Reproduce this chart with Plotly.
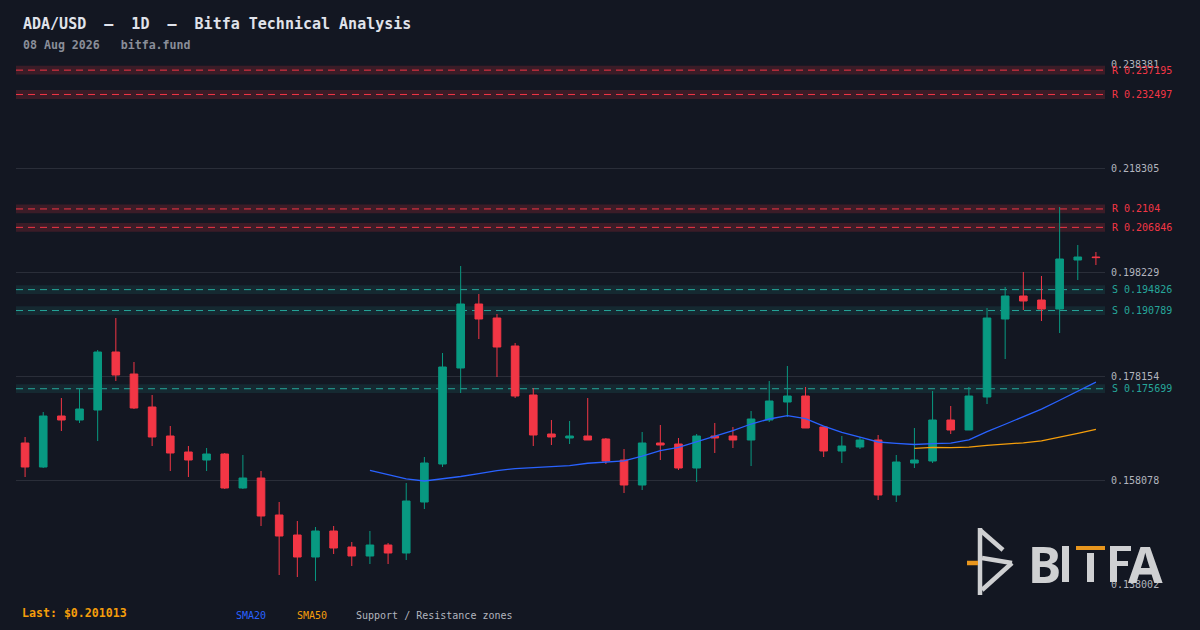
import pandas as pd
import plotly.graph_objects as go

# ---- data (ADA/USD daily) ----
dates = pd.date_range(end="2026-08-08", periods=60, freq="D")

opens = [0.165220, 0.160587, 0.170432, 0.169659, 0.171590, 0.182786, 0.178539, 0.172169, 0.166571, 0.163482,
         0.161938, 0.163096, 0.156533, 0.158463, 0.151321, 0.147460, 0.143213, 0.148232, 0.145144, 0.143406,
         0.145530, 0.143986, 0.153830, 0.161166, 0.179697, 0.192052, 0.189349, 0.183944, 0.174485, 0.166957,
         0.166185, 0.166571, 0.165992, 0.161938, 0.157112, 0.165220, 0.165027, 0.160394, 0.166571, 0.166571,
         0.165799, 0.169659, 0.173134, 0.174292, 0.168308, 0.163675, 0.164447, 0.165799, 0.155182, 0.161359,
         0.161745, 0.169659, 0.167729, 0.174099, 0.189156, 0.193596, 0.192824, 0.191087, 0.200545, 0.201124]
highs = [0.166378, 0.171204, 0.173906, 0.175644, 0.183172, 0.189349, 0.180856, 0.174485, 0.168501, 0.164640,
         0.164254, 0.163289, 0.162903, 0.159815, 0.153830, 0.150163, 0.149005, 0.149198, 0.146109, 0.148232,
         0.145916, 0.157498, 0.162517, 0.182593, 0.199387, 0.193982, 0.190121, 0.184523, 0.175837, 0.169659,
         0.169466, 0.173906, 0.166185, 0.164061, 0.167343, 0.168694, 0.166185, 0.166957, 0.169080, 0.168308,
         0.171397, 0.177188, 0.180083, 0.176030, 0.168308, 0.166571, 0.166378, 0.166764, 0.162903, 0.168115,
         0.175258, 0.172362, 0.176030, 0.191280, 0.195333, 0.198229, 0.197457, 0.210776, 0.203441, 0.202090]
lows = [0.158656, 0.160394, 0.167536, 0.169080, 0.165606, 0.177188, 0.171783, 0.164640, 0.159815, 0.158656,
        0.159815, 0.156340, 0.156340, 0.149198, 0.139739, 0.139353, 0.138581, 0.143793, 0.141476, 0.141862,
        0.141862, 0.142634, 0.152479, 0.160587, 0.174871, 0.185295, 0.177960, 0.173906, 0.164640, 0.164834,
        0.165027, 0.165799, 0.161166, 0.155568, 0.156147, 0.161938, 0.160008, 0.157691, 0.163289, 0.164254,
        0.160780, 0.169273, 0.170238, 0.168115, 0.162517, 0.161359, 0.164061, 0.154216, 0.153830, 0.160394,
        0.161359, 0.166957, 0.167729, 0.172748, 0.181435, 0.190894, 0.188770, 0.186454, 0.196685, 0.199580]
closes = [0.160587, 0.170432, 0.169659, 0.171783, 0.182786, 0.178346, 0.171976, 0.166378, 0.163289, 0.161938,
          0.163096, 0.156533, 0.158463, 0.151128, 0.147267, 0.143213, 0.148232, 0.144951, 0.143406, 0.145530,
          0.143986, 0.154023, 0.161359, 0.179890, 0.192052, 0.189156, 0.183751, 0.174292, 0.166764, 0.166378,
          0.166571, 0.165799, 0.161745, 0.157112, 0.165220, 0.164834, 0.160394, 0.166571, 0.166185, 0.165799,
          0.169852, 0.173327, 0.174292, 0.168115, 0.163675, 0.164640, 0.165799, 0.155182, 0.161552, 0.161938,
          0.169659, 0.167729, 0.174292, 0.189349, 0.193596, 0.192631, 0.191087, 0.200738, 0.201124, 0.201013]

resistance = [0.237195, 0.232497, 0.2104, 0.206846]
support = [0.194826, 0.190789, 0.175699]
zone_half = 0.00085

y_ticks = [0.138002, 0.158078, 0.178154, 0.198229, 0.218305, 0.238381]

last_price = 0.201013

BG = "#131722"
GREEN = "#089981"
RED = "#f23645"
TEAL = "#26a69a"
BLUE = "#2962ff"
ORANGE = "#f59e0b"
GREY = "#b2b5be"
FONT = "DejaVu Sans Mono"

# plot area in pixels (1200x630 canvas)
L, R, T, B = 16, 1105, 64, 584


def px(x):
    return (x - L) / (R - L)


def py(y):
    return (B - y) / (B - T)


df = pd.DataFrame({"open": opens, "high": highs, "low": lows, "close": closes}, index=dates)
df["sma20"] = df["close"].rolling(20).mean()
df["sma50"] = df["close"].rolling(50).mean()

fig = go.Figure()

fig.add_trace(go.Candlestick(
    x=df.index, open=df["open"], high=df["high"], low=df["low"], close=df["close"],
    increasing=dict(line=dict(color=GREEN, width=1), fillcolor=GREEN),
    decreasing=dict(line=dict(color=RED, width=1), fillcolor=RED),
    whiskerwidth=0, showlegend=False, hoverinfo="skip",
))
fig.add_trace(go.Scatter(x=df.index, y=df["sma20"], mode="lines",
                         line=dict(color=BLUE, width=1.3), showlegend=False, hoverinfo="skip"))
fig.add_trace(go.Scatter(x=df.index, y=df["sma50"], mode="lines",
                         line=dict(color=ORANGE, width=1.3), showlegend=False, hoverinfo="skip"))

# support / resistance zones
for levels, col, fill, tag in [(resistance, RED, "rgba(242,54,69,0.18)", "R"),
                               (support, TEAL, "rgba(38,166,154,0.13)", "S")]:
    for lv in levels:
        fig.add_shape(type="rect", xref="x domain", x0=0, x1=1, y0=lv - zone_half, y1=lv + zone_half,
                      fillcolor=fill, line_width=0, layer="below")
        fig.add_shape(type="line", xref="x domain", x0=0, x1=1, y0=lv, y1=lv,
                      line=dict(color=col, width=1, dash="7px,5px"), layer="below")
        fig.add_annotation(xref="paper", x=px(1110), y=lv, yref="y", text=f"{tag} {lv:g}",
                           showarrow=False, xanchor="left", yanchor="middle",
                           font=dict(family=FONT, size=10, color=col))

# header
fig.add_annotation(xref="paper", yref="paper", x=px(21), y=py(24),
                   text="<b>ADA/USD\u00a0\u00a0—\u00a0\u00a01D\u00a0\u00a0—\u00a0\u00a0Bitfa Technical Analysis</b>",
                   showarrow=False, xanchor="left", yanchor="middle",
                   font=dict(family=FONT, size=15, color="#e0e3eb"))
fig.add_annotation(xref="paper", yref="paper", x=px(21), y=py(45),
                   text="<b>08 Aug 2026\u00a0\u00a0\u00a0bitfa.fund</b>",
                   showarrow=False, xanchor="left", yanchor="middle",
                   font=dict(family=FONT, size=11.6, color="#8a8e99"))

# footer
fig.add_annotation(xref="paper", yref="paper", x=px(20), y=py(613),
                   text=f"<b>Last: ${last_price}</b>", showarrow=False, xanchor="left", yanchor="middle",
                   font=dict(family=FONT, size=11.6, color=ORANGE))
for label, x0, col in [("SMA20", 234, BLUE), ("SMA50", 295, ORANGE),
                       ("Support / Resistance zones", 354, GREY)]:
    fig.add_annotation(xref="paper", yref="paper", x=px(x0), y=py(615), text=label,
                       showarrow=False, xanchor="left", yanchor="middle",
                       font=dict(family=FONT, size=10, color=col))

# BITFA logo
LOGO = "#cfd0d2"
for x0, y0, x1, y1 in [(980, 528, 980, 595), (980, 530, 1003, 550),
                       (982, 558, 1012, 563), (1012, 563, 982, 590)]:
    fig.add_shape(type="line", xref="paper", yref="paper", x0=px(x0), y0=py(y0), x1=px(x1), y1=py(y1),
                  line=dict(color=LOGO, width=4.5))
fig.add_shape(type="line", xref="paper", yref="paper", x0=px(967), y0=py(563), x1=px(978), y1=py(563),
              line=dict(color="#e8961e", width=4.5))
for x0, y0, x1, y1, col in [(1062, 546, 1069, 582, LOGO),       # I
                            (1076, 546, 1105, 550, "#e8961e"),  # T bar
                            (1087, 553, 1094, 582, LOGO),       # T stem
                            (1110, 546, 1117, 582, LOGO),       # F stem
                            (1110, 546, 1131, 551, LOGO),       # F top
                            (1117, 561, 1128, 566, LOGO)]:      # F middle
    fig.add_shape(type="rect", xref="paper", yref="paper", x0=px(x0), y0=py(y0), x1=px(x1), y1=py(y1),
                  fillcolor=col, line_width=0)
for ch, xc in [("B", 1044), ("A", 1145)]:
    fig.add_annotation(xref="paper", yref="paper", x=px(xc), y=py(564), text=f"<b>{ch}</b>",
                       showarrow=False, xanchor="center", yanchor="middle",
                       font=dict(family="Noto Sans", size=50, color=LOGO))

fig.update_layout(
    width=1200, height=630,
    margin=dict(l=L, r=1200 - R, t=T, b=630 - B),
    paper_bgcolor=BG, plot_bgcolor=BG,
    boxgap=0.4,
    showlegend=False,
    xaxis=dict(rangeslider=dict(visible=False), showgrid=False, zeroline=False, showticklabels=False,
               range=[dates[0] - pd.Timedelta(hours=12), dates[-1] + pd.Timedelta(hours=12)]),
    yaxis=dict(side="right", range=[y_ticks[0], y_ticks[-1]], tickvals=y_ticks,
               ticktext=[f"{v:.6f}" for v in y_ticks], showgrid=True, gridcolor="#2a2e39",
               gridwidth=1, zeroline=False, ticks="", ticklabelstandoff=5,
               tickfont=dict(family=FONT, size=10, color=GREY)),
)

fig.write_html("out.html", config={"displayModeBar": False},
               post_script="document.body.style.margin='0';document.body.style.overflow='hidden';")
